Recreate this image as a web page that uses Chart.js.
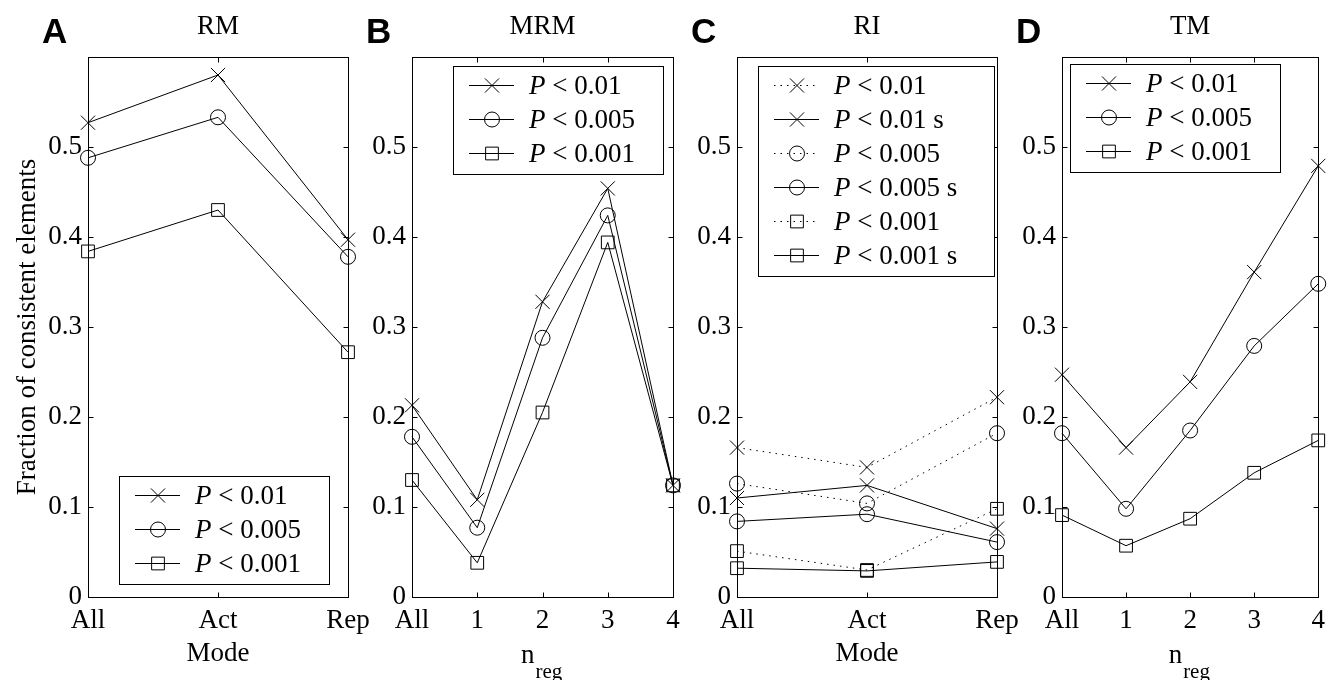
<!DOCTYPE html>
<html lang="en">
<head>
<meta charset="UTF-8">
<title>Fraction of consistent elements</title>
<script src="https://cdn.jsdelivr.net/npm/chart.js"></script>
<style>
  body { margin: 0; background: #fff; }
  #wrap { position: relative; width: 1333px; height: 680px; }
  #wrap canvas { position: absolute; left: 0; top: 0; }
</style>
</head>
<body>
<div id="wrap">
  <canvas id="rm" width="1333" height="680"></canvas>
  <canvas id="mrm" width="1333" height="680"></canvas>
  <canvas id="ri" width="1333" height="680"></canvas>
  <canvas id="tm" width="1333" height="680"></canvas>
</div>

<script>
// ---- data ----
const modeLabels = ['All', 'Act', 'Rep'];
const nregLabels = ['All', '1', '2', '3', '4'];
const yTicks = [0, 0.1, 0.2, 0.3, 0.4, 0.5];

// A: RM
const rmP01  = [0.527, 0.580, 0.397];
const rmP005 = [0.488, 0.533, 0.378];
const rmP001 = [0.384, 0.430, 0.272];

// B: MRM
const mrmP01  = [0.213, 0.108, 0.328, 0.454, 0.124];
const mrmP005 = [0.178, 0.077, 0.288, 0.424, 0.124];
const mrmP001 = [0.130, 0.038, 0.205, 0.394, 0.124];

// C: RI (dotted = plain, solid = "s")
const riP01   = [0.166, 0.144, 0.222];
const riP01s  = [0.110, 0.124, 0.076];
const riP005  = [0.126, 0.104, 0.182];
const riP005s = [0.084, 0.092, 0.061];
const riP001  = [0.051, 0.030, 0.098];
const riP001s = [0.032, 0.029, 0.039];

// D: TM
const tmP01  = [0.247, 0.166, 0.239, 0.361, 0.479];
const tmP005 = [0.182, 0.098, 0.185, 0.279, 0.348];
const tmP001 = [0.091, 0.057, 0.087, 0.138, 0.174];

// ---- styling ----
const SERIF = '"Liberation Serif", "Times New Roman", serif';
const markerRadius = { crossRot: 10, circle: 7.5, rect: 9 };
const DOT = [1.5, 5];

// small marker drawer for the legend (same geometry as Chart.js)
function drawMarker(ctx, style, r, x, y) {
  ctx.beginPath();
  if (style === 'circle') {
    ctx.arc(x, y, r, 0, Math.PI * 2);
  } else if (style === 'rect') {
    const s = r * Math.SQRT1_2;
    ctx.rect(x - s, y - s, 2 * s, 2 * s);
  } else {
    const s = r * Math.SQRT1_2;
    ctx.moveTo(x - s, y - s); ctx.lineTo(x + s, y + s);
    ctx.moveTo(x - s, y + s); ctx.lineTo(x + s, y - s);
  }
  ctx.stroke();
}

// box, inward ticks on all four sides, panel letter, subscript axis label
const frame = {
  id: 'frame',
  afterDatasetsDraw(chart, args, opts) {
    const { ctx, chartArea: a, scales: { x, y } } = chart;
    ctx.save();
    ctx.strokeStyle = '#000';
    ctx.lineWidth = 1;
    ctx.setLineDash([]);
    const L = Math.round(a.left) + 0.5, R = Math.round(a.right) + 0.5;
    const T = Math.round(a.top) + 0.5, B = Math.round(a.bottom) + 0.5;
    ctx.strokeRect(L, T, R - L, B - T);
    const t = 5;
    ctx.beginPath();
    x.ticks.forEach((tk, i) => {
      const px = Math.round(x.getPixelForTick(i)) + 0.5;
      ctx.moveTo(px, B); ctx.lineTo(px, B - t);
      ctx.moveTo(px, T); ctx.lineTo(px, T + t);
    });
    y.ticks.forEach((tk, i) => {
      const py = Math.round(y.getPixelForTick(i)) + 0.5;
      ctx.moveTo(L, py); ctx.lineTo(L + t, py);
      ctx.moveTo(R, py); ctx.lineTo(R - t, py);
    });
    ctx.stroke();

    ctx.fillStyle = '#000';
    ctx.textBaseline = 'alphabetic';
    ctx.textAlign = 'left';
    ctx.font = 'bold 35px "Liberation Sans", Arial, sans-serif';
    ctx.fillText(opts.letter, a.left - 46, 43);

    if (opts.sub) {
      const cx = (a.left + a.right) / 2;
      ctx.textBaseline = 'middle';
      ctx.font = '27px ' + SERIF;
      ctx.textAlign = 'right';
      ctx.fillText('n', cx - 8, 656);
      ctx.font = '21px ' + SERIF;
      ctx.textAlign = 'left';
      ctx.fillText(opts.sub, cx - 7, 672);
    }
    ctx.restore();
  }
};

// MATLAB-style legend: line sample with marker, italic P
const boxLegend = {
  id: 'boxLegend',
  afterDraw(chart, args, opts) {
    const { ctx, chartArea: a } = chart;
    const sets = chart.data.datasets;
    const rowH = 34;
    const h = 19 + (sets.length - 1) * rowH + 21;
    const x0 = a.left + opts.dx;
    const y0 = opts.bottom !== undefined ? a.bottom - opts.bottom - h : a.top + opts.dy;
    ctx.save();
    ctx.fillStyle = '#fff';
    ctx.fillRect(x0, y0, opts.w, h);
    ctx.strokeStyle = '#000';
    ctx.lineWidth = 1;
    ctx.strokeRect(Math.round(x0) + 0.5, Math.round(y0) + 0.5, opts.w, h);
    sets.forEach((ds, i) => {
      const yy = Math.round(y0 + 19 + i * rowH) + 0.5;
      ctx.setLineDash(ds.borderDash || []);
      ctx.beginPath();
      ctx.moveTo(x0 + 16, yy); ctx.lineTo(x0 + 61, yy);
      ctx.stroke();
      ctx.setLineDash([]);
      drawMarker(ctx, ds.pointStyle, ds.pointRadius, x0 + 39, yy);
      ctx.fillStyle = '#000';
      ctx.textBaseline = 'middle';
      ctx.textAlign = 'left';
      ctx.font = 'italic 27px ' + SERIF;
      ctx.fillText(ds.label.charAt(0), x0 + 76, yy + 1);
      const w = ctx.measureText(ds.label.charAt(0)).width;
      ctx.font = '27px ' + SERIF;
      ctx.fillText(ds.label.slice(1), x0 + 76 + w, yy + 1);
    });
    ctx.restore();
  }
};

function makePanel(id, p) {
  return new Chart(document.getElementById(id), {
    type: 'line',
    data: {
      labels: p.labels,
      datasets: p.sets.map(s => ({
        label: s.label,
        data: s.data,
        borderColor: '#000',
        borderWidth: 1,
        borderDash: s.dotted ? DOT : [],
        pointStyle: s.marker,
        pointRadius: markerRadius[s.marker],
        pointBorderColor: '#000',
        pointBackgroundColor: 'rgba(0,0,0,0)',
        pointBorderWidth: 1,
        tension: 0,
        clip: false
      }))
    },
    options: {
      responsive: false,
      animation: false,
      events: [],
      layout: { padding: { left: p.left - p.yWidth, right: 1333 - p.right, top: 0, bottom: 0 } },
      plugins: {
        legend: { display: false },
        tooltip: { enabled: false },
        title: {
          display: true,
          text: p.title,
          fullSize: false,
          color: '#000',
          font: { family: SERIF, size: 27, weight: 'normal', lineHeight: 1.2 },
          padding: { top: 11, bottom: 13.6 }
        },
        frame: { letter: p.letter, sub: p.sub },
        boxLegend: p.legend
      },
      scales: {
        x: {
          type: 'category',
          offset: false,
          grid: { display: false, drawTicks: false },
          border: { display: false },
          ticks: { color: '#000', font: { family: SERIF, size: 27 }, padding: 8, maxRotation: 0, autoSkip: false },
          title: {
            display: !!p.xTitle,
            text: p.xTitle || '',
            color: '#000',
            font: { family: SERIF, size: 27, lineHeight: 1.2 },
            padding: { top: 0, bottom: 10 }
          },
          afterFit: s => { s.height = 83; }
        },
        y: {
          min: 0,
          max: 0.6,
          afterBuildTicks: s => { s.ticks = yTicks.map(v => ({ value: v })); },
          grid: { display: false, drawTicks: false },
          border: { display: false },
          ticks: {
            color: '#000',
            font: { family: SERIF, size: 27 },
            padding: 6,
            callback: v => (v === 0 ? '0' : v.toFixed(1))
          },
          title: {
            display: !!p.yTitle,
            text: p.yTitle || '',
            color: '#000',
            font: { family: SERIF, size: 27, lineHeight: 1.2 },
            padding: { top: 12, bottom: 0 }
          },
          afterFit: s => { s.width = p.yWidth; }
        }
      }
    },
    plugins: [frame, boxLegend]
  });
}

makePanel('rm', {
  letter: 'A', title: 'RM', labels: modeLabels, xTitle: 'Mode',
  yTitle: 'Fraction of consistent elements',
  left: 88, right: 348, yWidth: 88,
  legend: { dx: 31, bottom: 13, w: 210 },
  sets: [
    { label: 'P < 0.01', data: rmP01, marker: 'crossRot' },
    { label: 'P < 0.005', data: rmP005, marker: 'circle' },
    { label: 'P < 0.001', data: rmP001, marker: 'rect' }
  ]
});

makePanel('mrm', {
  letter: 'B', title: 'MRM', labels: nregLabels, sub: 'reg',
  left: 412, right: 673, yWidth: 60,
  legend: { dx: 41, dy: 9, w: 210 },
  sets: [
    { label: 'P < 0.01', data: mrmP01, marker: 'crossRot' },
    { label: 'P < 0.005', data: mrmP005, marker: 'circle' },
    { label: 'P < 0.001', data: mrmP001, marker: 'rect' }
  ]
});

makePanel('ri', {
  letter: 'C', title: 'RI', labels: modeLabels, xTitle: 'Mode',
  left: 737, right: 997, yWidth: 60,
  legend: { dx: 21, dy: 9, w: 236 },
  sets: [
    { label: 'P < 0.01', data: riP01, marker: 'crossRot', dotted: true },
    { label: 'P < 0.01 s', data: riP01s, marker: 'crossRot' },
    { label: 'P < 0.005', data: riP005, marker: 'circle', dotted: true },
    { label: 'P < 0.005 s', data: riP005s, marker: 'circle' },
    { label: 'P < 0.001', data: riP001, marker: 'rect', dotted: true },
    { label: 'P < 0.001 s', data: riP001s, marker: 'rect' }
  ]
});

makePanel('tm', {
  letter: 'D', title: 'TM', labels: nregLabels, sub: 'reg',
  left: 1062, right: 1321, yWidth: 60,
  legend: { dx: 8, dy: 7, w: 210 },
  sets: [
    { label: 'P < 0.01', data: tmP01, marker: 'crossRot' },
    { label: 'P < 0.005', data: tmP005, marker: 'circle' },
    { label: 'P < 0.001', data: tmP001, marker: 'rect' }
  ]
});
</script>
</body>
</html>
